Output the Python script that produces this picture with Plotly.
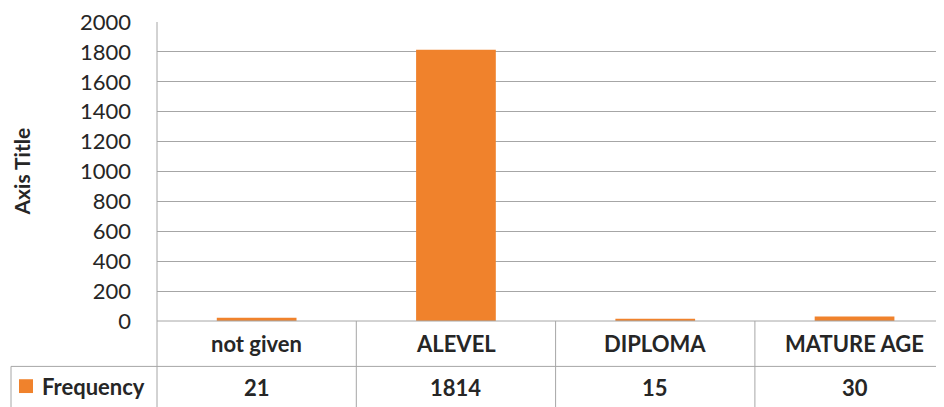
import plotly.graph_objects as go

categories = ["not given", "ALEVEL", "DIPLOMA", "MATURE AGE"]
frequency = [21, 1814, 15, 30]
series_name = "Frequency"
y_ticks = list(range(0, 2001, 200))

# page has an 8px body margin, so the figure is offset by 8px
W, H = 944, 407
L, R, T, B = 149, 0, 10, 94
PW, PH = W - L - R, H - T - B
PLOT_LEFT, PLOT_ZERO = 157, 321  # page coordinates of plot left edge / y=0
COL_W = 199.3

BAR = "#f0822c"
GRID = "#a6a6a6"
TXT = "#262626"
FONT = "Lato"


def px_x(px):
    return (px - PLOT_LEFT) / PW


def px_y(py):
    return (PLOT_ZERO - py) / PH


fig = go.Figure(go.Bar(
    x=categories,
    y=frequency,
    name=series_name,
    marker=dict(color=BAR, line=dict(width=0)),
    width=0.4,
))

shapes = []
line = dict(color=GRID, width=1)
# data table grid
shapes.append(dict(type="line", xref="paper", yref="paper",
                   x0=0, x1=1, y0=0, y1=0, line=line))
shapes.append(dict(type="line", xref="paper", yref="paper",
                   x0=px_x(11), x1=1, y0=px_y(367), y1=px_y(367), line=line))
shapes.append(dict(type="line", xref="paper", yref="paper",
                   x0=0, x1=0, y0=1, y1=px_y(420), line=line))
shapes.append(dict(type="line", xref="paper", yref="paper",
                   x0=px_x(11), x1=px_x(11), y0=px_y(367), y1=px_y(420), line=line))
for b in [0.5, 1.5, 2.5]:
    shapes.append(dict(type="line", xref="x", yref="paper",
                       x0=b, x1=b, y0=0, y1=px_y(420), line=line))
# legend key
shapes.append(dict(type="rect", xref="paper", yref="paper",
                   x0=px_x(19), x1=px_x(33), y0=px_y(394), y1=px_y(380),
                   fillcolor=BAR, line=dict(width=0)))

txt_font = dict(size=22, color=TXT, family=FONT)
annotations = []
for c, v in zip(categories, frequency):
    annotations.append(dict(x=c, xref="x", y=px_y(344), yref="paper", text=f"<b>{c}</b>",
                            xanchor="center", yanchor="middle", showarrow=False, font=txt_font))
    annotations.append(dict(x=c, xref="x", y=px_y(388), yref="paper", text=f"<b>{v}</b>",
                            xanchor="center", yanchor="middle", showarrow=False, font=txt_font))
annotations.append(dict(x=px_x(40), xref="paper", y=px_y(387), yref="paper",
                        xanchor="left", yanchor="middle",
                        text=f"<b>{series_name}</b>", showarrow=False, font=txt_font))
annotations.append(dict(x=px_x(21), xref="paper", y=0.5, yref="paper", textangle=-90,
                        xanchor="center", yanchor="middle",
                        text="<b>Axis Title</b>", showarrow=False,
                        font=dict(size=21, color=TXT, family=FONT)))

fig.update_layout(
    width=W, height=H,
    margin=dict(l=L, r=R, t=T, b=B),
    paper_bgcolor="white", plot_bgcolor="white",
    showlegend=False,
    font=dict(family=FONT, color=TXT),
    xaxis=dict(range=[-0.5, -0.5 + PW / COL_W], showticklabels=False, showgrid=False,
               zeroline=False, showline=False, ticks=""),
    yaxis=dict(range=[0, 2000], tickvals=y_ticks, showgrid=True, gridcolor=GRID, gridwidth=1,
               zeroline=False, showline=False, ticks="", ticklabelstandoff=25,
               ticklabeloverflow="allow",
               tickfont=dict(size=22, color=TXT, family=FONT)),
    shapes=shapes,
    annotations=annotations,
)

fig.write_html("out.html")
